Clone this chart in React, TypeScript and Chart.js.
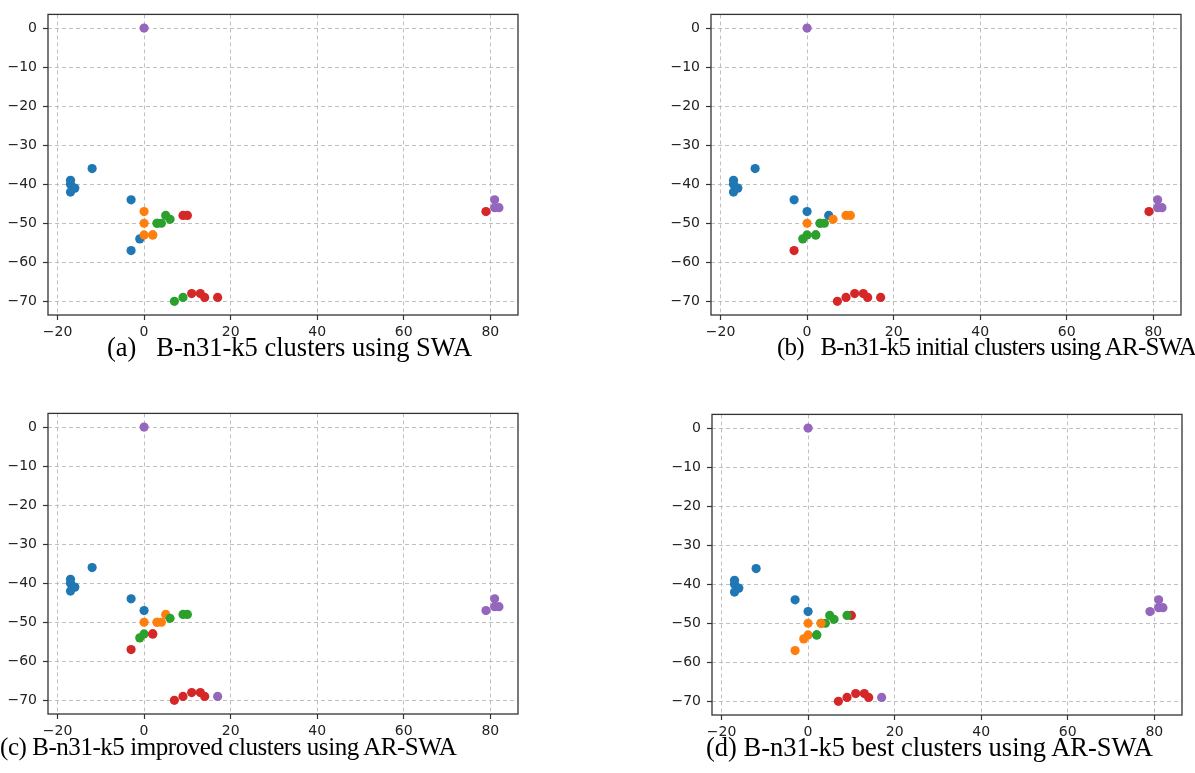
import React, { useEffect, useRef } from "react";
import { Chart, registerables } from "chart.js";

Chart.register(...registerables);

// B-n31-k5 node coordinates relative to the depot (node 1 first)
const xs = [0, 7, 79, -3, -3, -17, -1, 3, 5, 0, 81, 13, 6, 2, 17, 14, -17, 2, -17, 9, 81, -12, 0, 4, 11, -16, 10, 82, 9, 0, 3];
const ys = [0, -70, -47, -57, -44, -42, -54, -50, -48, -53, -46, -68, -49, -53, -69, -69, -39, -53, -40, -69, -44, -36, -50, -50, -68, -41, -48, -46, -48, -47, -50];

// cluster index per node: 0 blue, 1 orange, 2 green, 3 red, 4 purple
const clustersA = [4, 2, 3, 0, 0, 0, 0, 2, 2, 1, 4, 3, 2, 1, 3, 3, 0, 1, 0, 2, 4, 0, 1, 2, 3, 0, 3, 4, 3, 1, 2];
const clustersB = [4, 3, 3, 3, 0, 0, 2, 2, 0, 2, 4, 3, 1, 2, 3, 3, 0, 2, 0, 3, 4, 0, 1, 2, 3, 0, 1, 4, 1, 0, 2];
const clustersC = [4, 3, 4, 3, 0, 0, 2, 1, 1, 2, 4, 3, 2, 3, 4, 3, 0, 3, 0, 3, 4, 0, 1, 1, 3, 0, 2, 4, 2, 0, 1];
const clustersD = [4, 3, 4, 1, 0, 0, 1, 2, 2, 1, 4, 3, 2, 2, 4, 3, 0, 2, 0, 3, 4, 0, 1, 2, 3, 0, 3, 4, 2, 0, 1];

const palette = ["#1f77b4", "#ff7f0e", "#2ca02c", "#d62728", "#9467bd"];

const xTicks = [-20, 0, 20, 40, 60, 80];
const yTicks = [0, -10, -20, -30, -40, -50, -60, -70];

const captionA = "(a)   B-n31-k5 clusters using SWA";
const captionB = "(b)   B-n31-k5 initial clusters using AR-SWA";
const captionC = "(c) B-n31-k5 improved clusters using AR-SWA";
const captionD = "(d) B-n31-k5 best clusters using AR-SWA";

const fmt = (v: number) => (v < 0 ? "\u2212" + Math.abs(v) : String(v));

const framePlugin = {
  id: "frame",
  afterDraw(chart: any) {
    const { ctx, chartArea: a } = chart;
    ctx.save();
    ctx.strokeStyle = "#333";
    ctx.lineWidth = 1.3;
    ctx.strokeRect(a.left, a.top, a.right - a.left, a.bottom - a.top);
    ctx.restore();
  },
};

const CW = 530;
const CH = 345;

function Panel({ labels, left, top }: { labels: number[]; left: number; top: number }) {
  const ref = useRef<HTMLCanvasElement>(null);
  useEffect(() => {
    if (!ref.current) return;
    const gridCommon = {
      color: "#b9b9b9",
      lineWidth: 0.9,
      drawTicks: true,
      tickLength: 5,
      tickColor: "#333",
      tickWidth: 1.2,
      tickBorderDash: [],
    };
    const tickFont = { family: "DejaVu Sans", size: 14 };
    const chart = new Chart(ref.current, {
      type: "scatter",
      data: {
        datasets: [
          {
            data: xs.map((x, i) => ({ x, y: ys[i] })),
            backgroundColor: labels.map((l) => palette[l]),
            borderWidth: 0,
            pointRadius: 4.6,
            pointHoverRadius: 4.6,
          },
        ],
      },
      options: {
        responsive: false,
        animation: false,
        events: [],
        layout: { padding: { top: 9, right: 12, left: 0, bottom: 0 } },
        plugins: { legend: { display: false }, tooltip: { enabled: false } },
        scales: {
          x: {
            type: "linear",
            min: -22.2,
            max: 86.4,
            afterBuildTicks: (s: any) => {
              s.ticks = xTicks.map((v) => ({ value: v }));
            },
            afterFit: (s: any) => {
              s.height = CH - 9 - 306;
            },
            grid: gridCommon,
            border: { display: false, dash: [4, 3] },
            ticks: { font: tickFont, color: "#222", padding: 4, callback: (v: any) => fmt(Number(v)), maxRotation: 0 },
          },
          y: {
            type: "linear",
            min: -73.5,
            max: 3.5,
            afterBuildTicks: (s: any) => {
              s.ticks = yTicks.map((v) => ({ value: v }));
            },
            afterFit: (s: any) => {
              s.width = 48;
            },
            grid: gridCommon,
            border: { display: false, dash: [4, 3] },
            ticks: { font: tickFont, color: "#222", padding: 6, callback: (v: any) => fmt(Number(v)) },
          },
        },
      },
      plugins: [framePlugin],
    } as any);
    return () => chart.destroy();
  }, [labels]);
  return (
    <canvas
      ref={ref}
      width={CW}
      height={CH}
      style={{ position: "absolute", left, top, width: CW, height: CH }}
    />
  );
}

const capStyle: React.CSSProperties = {
  position: "absolute",
  fontFamily: "'Liberation Serif', 'Times New Roman', serif",
  fontSize: 26.5,
  lineHeight: "30px",
  whiteSpace: "pre",
  color: "#000",
};

export default function App() {
  return (
    <div style={{ position: "absolute", left: 0, top: 0, width: 1195, height: 773, background: "#fff", overflow: "hidden" }}>
      <Panel labels={clustersA} left={0} top={0} />
      <Panel labels={clustersB} left={663} top={0} />
      <Panel labels={clustersC} left={0} top={399} />
      <Panel labels={clustersD} left={664} top={400} />
      <div style={{ ...capStyle, left: 107, top: 332 }}>{captionA}</div>
      <div style={{ ...capStyle, left: 777, top: 332, fontSize: 25, letterSpacing: -0.75 }}>{captionB}</div>
      <div style={{ ...capStyle, left: 0, top: 732, fontSize: 25, letterSpacing: -0.45 }}>{captionC}</div>
      <div style={{ ...capStyle, left: 706, top: 732 }}>{captionD}</div>
    </div>
  );
}
